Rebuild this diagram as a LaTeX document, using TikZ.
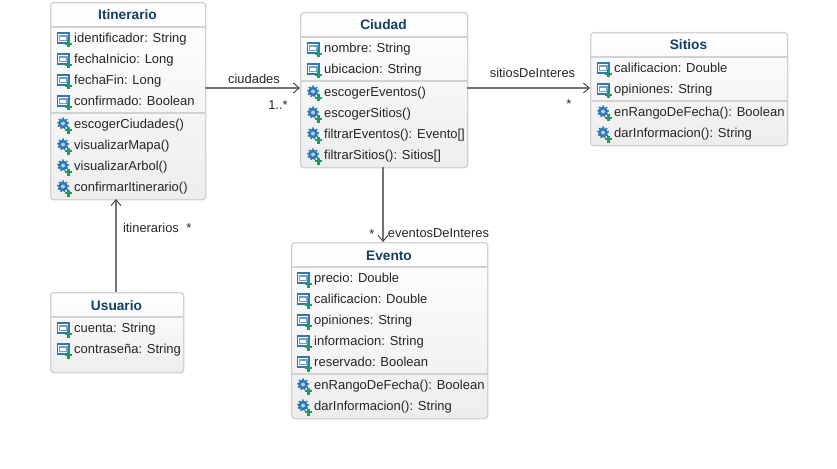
\documentclass[tikz,border=0pt]{standalone}
\usepackage{fontspec}
\setmainfont{Liberation Sans}
\usetikzlibrary{arrows.meta, positioning}
\definecolor{boxedge}{HTML}{D2D2D2}
\definecolor{boxtop}{HTML}{FFFFFF}
\definecolor{boxbot}{HTML}{EDEDED}
\definecolor{titleblue}{HTML}{123F63}
\definecolor{iconblue}{HTML}{2F78B5}
\definecolor{icongreen}{HTML}{1E9A5A}
\definecolor{linegray}{HTML}{737373}
\tikzset{x=1pt,y=-1pt,
  class box/.style={draw=boxedge,line width=1.3pt,rounded corners=3pt,top color=boxtop,bottom color=boxbot,inner sep=0pt},
  class title/.style={font=\fontsize{13.7}{15}\selectfont\bfseries,text=titleblue,anchor=base,inner sep=0pt},
  member/.style={font=\fontsize{13}{15}\selectfont,text=black!85,anchor=base west,inner sep=0pt},
  tag/.style={font=\fontsize{12.9}{15}\selectfont,text=black!85,anchor=base,inner sep=0pt},
  link/.style={draw=linegray,line width=1.3pt,-{Straight Barb[length=6pt,width=10pt,line width=.9pt,color=black!75]}}
}
% x y width height of a class, then its name
\newcommand{\classbox}[6]{
  \node[class box,minimum width=#3,minimum height=#4,anchor=north west] (#5) at (#1,#2) {};
  \node[class title] (#5title) at (#1+#3/2,#2+18) {#6};
}
\newcommand{\sepline}[3]{\draw[boxedge,line width=1.3pt] (#1,#3) -- (#2,#3);}
% small green plus shared by both icons
\newcommand{\plusicon}[2]{
  \draw[icongreen,line width=2.2pt] (#1+11.5,#2+2.5) -- (#1+11.5,#2+9.5) (#1+8,#2+6) -- (#1+15,#2+6);
}
% small field icon
\newcommand{\fieldicon}[2]{
  \draw[iconblue,fill=white,line width=1.2pt] (#1+.5,#2-5) rectangle (#1+12,#2+5);
  \draw[iconblue!70,line width=1.1pt] (#1+2.5,#2-2) -- (#1+10,#2-2) -- (#1+10,#2+2.5) -- (#1+2.5,#2+2.5) -- cycle;
  \plusicon{#1}{#2}
}
% small method icon
\newcommand{\methodicon}[2]{
  \fill[iconblue] (#1+6,#2-.5) circle (4.8pt);
  \draw[iconblue,dotted,line width=1.6pt] (#1+6,#2-.5) circle (5.3pt);
  \fill[iconblue!35] (#1+6,#2-.5) circle (2pt);
  \plusicon{#1}{#2}
}
\newcommand{\field}[4]{\fieldicon{#1}{#2}\node[member] (#3) at (#1+17,#2+4.5) {#4};}
\newcommand{\method}[4]{\methodicon{#1}{#2}\node[member] (#3) at (#1+17,#2+4.5) {#4};}
\begin{document}
\begin{tikzpicture}
  \useasboundingbox (0,0) rectangle (837,468);

  % Itinerario
  \classbox{50}{2}{155}{197}{itin}{Itinerario}
  \sepline{50}{205}{27}
  \field{57}{38}{itinA}{identificador: String}
  \field{57}{59}{itinB}{fechaInicio: Long}
  \field{57}{80}{itinC}{fechaFin: Long}
  \field{57}{101}{itinD}{confirmado: Boolean}
  \sepline{50}{205}{113}
  \method{57}{124}{itinE}{escogerCiudades()}
  \method{57}{145}{itinF}{visualizarMapa()}
  \method{57}{166}{itinG}{visualizarArbol()}
  \method{57}{187}{itinH}{confirmarItinerario()}

  % Usuario
  \classbox{50}{292}{133}{80}{usr}{Usuario}
  \sepline{50}{183}{317}
  \field{57}{328}{usrA}{cuenta: String}
  \field{57}{349}{usrB}{contraseña: String}

  % Ciudad
  \classbox{300}{12}{167}{155}{ciu}{Ciudad}
  \sepline{300}{467}{37}
  \field{307}{48}{ciuA}{nombre: String}
  \field{307}{69}{ciuB}{ubicacion: String}
  \sepline{300}{467}{81}
  \method{307}{92}{ciuC}{escogerEventos()}
  \method{307}{113}{ciuD}{escogerSitios()}
  \method{307}{134}{ciuE}{filtrarEventos(): Evento[]}
  \method{307}{155}{ciuF}{filtrarSitios(): Sitios[]}

  % Sitios
  \classbox{590}{32}{197}{113}{sit}{Sitios}
  \sepline{590}{787}{57}
  \field{597}{68}{sitA}{calificacion: Double}
  \field{597}{89}{sitB}{opiniones: String}
  \sepline{590}{787}{101}
  \method{597}{112}{sitC}{enRangoDeFecha(): Boolean}
  \method{597}{133}{sitD}{darInformacion(): String}

  % Evento
  \classbox{291}{242}{196}{176}{eve}{Evento}
  \sepline{291}{487}{267}
  \field{297}{278}{eveA}{precio: Double}
  \field{297}{299}{eveB}{calificacion: Double}
  \field{297}{320}{eveC}{opiniones: String}
  \field{297}{341}{eveD}{informacion: String}
  \field{297}{362}{eveE}{reservado: Boolean}
  \sepline{291}{487}{374}
  \method{297}{385}{eveF}{enRangoDeFecha(): Boolean}
  \method{297}{406}{eveG}{darInformacion(): String}

  % associations
  \coordinate (itinout) at (205,88);
  \coordinate (ciuin) at (300,88);
  \coordinate (ciuout) at (467,88);
  \coordinate (sitin) at (590,88);
  \coordinate (ciudown) at (383,167);
  \coordinate (evein) at (383,242);
  \coordinate (usrup) at (116,292);
  \coordinate (itinin) at (116,199);
  \draw[link] (itinout) -- (ciuin);
  \draw[link] (ciuout) -- (sitin);
  \draw[link] (ciudown) -- (evein);
  \draw[link] (usrup) -- (itinin);

  \node[tag] (ciudades) at (254,84) {ciudades};
  \node[tag] (ciudadesm) at (278,109.5) {1..*};
  \node[tag] (sitiosl) at (532.5,78) {sitiosDeInteres};
  \node[tag] (sitiosm) at (569,109) {*};
  \node[tag] (evel) at (438.5,237) {eventosDeInteres};
  \node[tag] (evem) at (372,238) {*};
  \node[tag] (itinl) at (151,232) {itinerarios};
  \node[tag] (itinm) at (189,232) {*};
\end{tikzpicture}
\end{document}
